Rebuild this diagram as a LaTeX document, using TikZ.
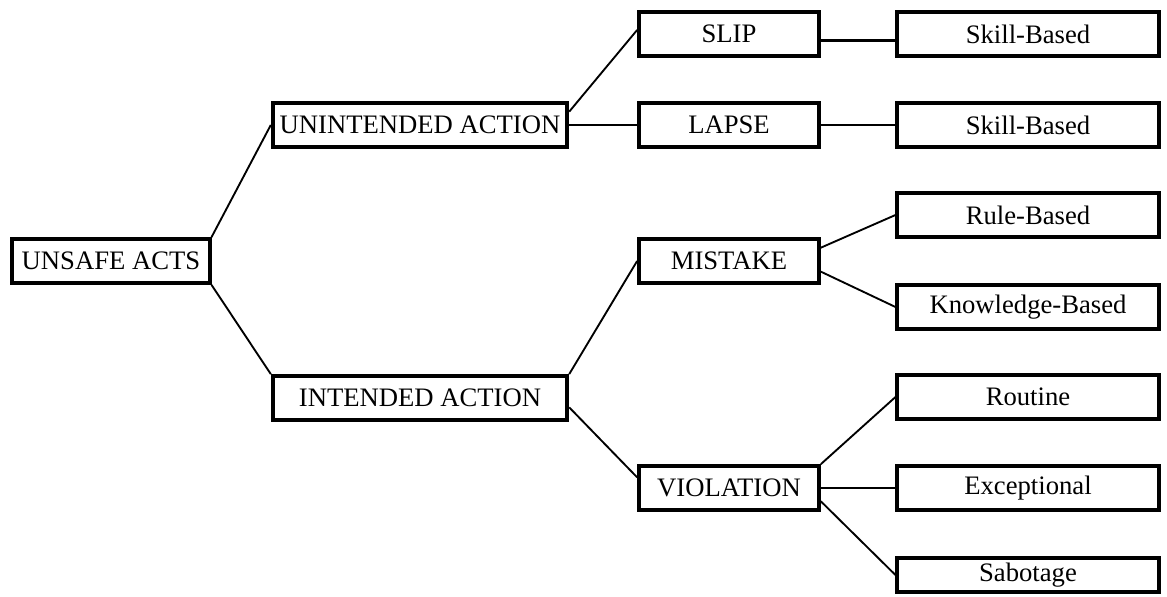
\documentclass[tikz,border=0pt]{standalone}
\usepackage{fontspec}
\setmainfont{Liberation Serif}
\begin{document}
\begin{tikzpicture}[x=0.75pt, y=-0.75pt,
  box/.style={shape=rectangle, draw=black, line width=2.8pt, inner sep=0pt,
    minimum height=33pt, font=\fontsize{20}{24}\selectfont},
  wide/.style={box, minimum width=221pt},
  mid/.style={box, minimum width=135pt},
  leaf/.style={box, minimum width=196pt},
  every path/.style={line width=1.4pt}]
\useasboundingbox (0,0) rectangle (1167,596);
\node[box, minimum width=148pt] (ua) at (111,261) {UNSAFE ACTS};
\node[wide] (un) at (420,125) {UNINTENDED ACTION};
\node[wide] (int) at (420,398) {INTENDED ACTION};
\node[mid] (slip) at (729,34) {SLIP};
\node[mid] (lapse) at (729,125) {LAPSE};
\node[mid] (mis) at (729,261) {MISTAKE};
\node[mid] (vio) at (729,488) {VIOLATION};
\node[leaf] (sk1) at (1028,34) {Skill-Based};
\node[leaf] (sk2) at (1028,125) {Skill-Based};
\node[leaf] (rule) at (1028,215) {Rule-Based};
\node[leaf] (know) at (1028,307) {Knowledge-Based};
\node[leaf] (rout) at (1028,397) {Routine};
\node[leaf] (exc) at (1028,488) {Exceptional};
\node[leaf, minimum height=26pt] (sab) at (1028,575) {Sabotage};
\draw[-] (ua.north east) -- (un.west);
\draw[-] (ua.south east) -- (int.north west);
\draw[-] ([yshift=10pt]un.east) -- ([yshift=3pt]slip.west);
\draw[-] (un.east) -- (lapse.west);
\draw[-, line width=2.2pt] ([yshift=-5pt]slip.east) -- ([yshift=-5pt]sk1.west);
\draw[-] (lapse.east) -- (sk2.west);
\draw[-] (int.north east) -- (mis.west);
\draw[-] ([yshift=-7pt]int.east) -- ([yshift=8pt]vio.west);
\draw[-] ([yshift=10pt]mis.east) -- (rule.west);
\draw[-] ([yshift=-8pt]mis.east) -- (know.west);
\draw[-] (vio.north east) -- (rout.west);
\draw[-] (vio.east) -- (exc.west);
\draw[-] ([yshift=-10pt]vio.east) -- (sab.west);
\end{tikzpicture}
\end{document}
